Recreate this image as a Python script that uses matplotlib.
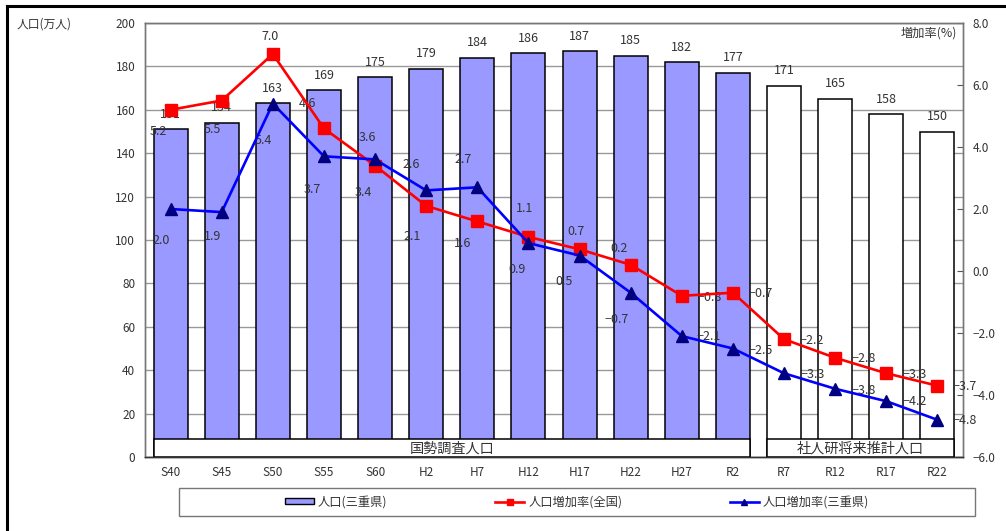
"""Mie prefecture population (bars) with national / prefectural growth rates (lines)."""

import matplotlib

matplotlib.use("Agg")
import matplotlib.pyplot as plt
import numpy as np
from matplotlib.lines import Line2D
from matplotlib.patches import Patch, Rectangle

plt.rcParams["font.family"] = ["Noto Sans CJK JP", "DejaVu Sans"]

years = ["S40", "S45", "S50", "S55", "S60", "H2", "H7", "H12", "H17", "H22",
         "H27", "R2", "R7", "R12", "R17", "R22"]
population = [151, 154, 163, 169, 175, 179, 184, 186, 187, 185, 182, 177,
              171, 165, 158, 150]
rate_japan = [5.2, 5.5, 7.0, 4.6, 3.4, 2.1, 1.6, 1.1, 0.7, 0.2, -0.8, -0.7,
              -2.2, -2.8, -3.3, -3.7]
rate_mie = [2.0, 1.9, 5.4, 3.7, 3.6, 2.6, 2.7, 0.9, 0.5, -0.7, -2.1, -2.5,
            -3.3, -3.8, -4.2, -4.8]
n_census = 12  # first 12 points are census, rest are IPSS projections

# label offsets in pixels (dx, dy)
red_offsets = [(-12, -22), (-9, -29), (-3, 18), (-16, 25), (-12, -27), (-14, -31),
               (-15, -22), (-4, 28), (-4, 18), (-12, 16), (28, -2), (28, -1),
               (28, -1), (28, -1), (28, -1), (27, -1)]
blue_offsets = [(-9, -32), (-9, -24), (-9, -37), (-12, -33), (-8, 22), (-15, 26),
                (-14, 28), (-11, -26), (-15, -26), (-14, -27), (27, 0), (28, -2),
                (29, -1), (29, -2), (28, 0), (27, -1)]

TXT = "#333333"
BAR = "#9999FF"


def fmt(v):
    return f"{v:.1f}".replace("-", "\u2212")


def main():
    W, H = 1006, 531
    fig = plt.figure(figsize=(W / 100, H / 100), dpi=100)
    ax = fig.add_axes([145 / W, 1 - 457 / H, (963 - 145) / W, (457 - 23) / H])
    ax2 = ax.twinx()

    x = np.arange(len(years))
    bw = 0.665
    colors = [BAR if i < n_census else "white" for i in x]
    ax.bar(x, population, bw, color=colors, edgecolor="black", linewidth=1.1, zorder=2)
    for xi, p in zip(x, population):
        ax.annotate(str(p), (xi, p), xytext=(0, 15), textcoords="offset pixels",
                    ha="center", va="center", fontsize=9, color=TXT)

    # source boxes along the bottom
    for i0, i1, label in [(0, n_census - 1, "国勢調査人口"),
                          (n_census, len(years) - 1, "社人研将来推計人口")]:
        ax.add_patch(Rectangle((i0 - bw / 2, 0), i1 - i0 + bw, 8.3, facecolor="white",
                               edgecolor="black", linewidth=1.1, zorder=3))
        ax.text((i0 + i1) / 2, 4.1, label, ha="center", va="center", fontsize=10.2,
                color=TXT, zorder=4)

    ax.set_xlim(-0.5, len(years) - 0.5)
    ax.set_ylim(0, 200)
    ax.set_yticks(range(0, 201, 20))
    ax.yaxis.grid(True, color="#999999", linewidth=1)
    ax.set_axisbelow(True)
    ax.set_xticks(x)
    ax.set_xticklabels(years)
    ax.tick_params(axis="x", length=0, pad=6.5, labelsize=8.5, labelcolor=TXT)
    ax.tick_params(axis="y", length=0, pad=7, labelsize=8.5, labelcolor=TXT)

    ax2.plot(x, rate_japan, color="#FF0000", linewidth=1.9, marker="s", markersize=8.5,
             markerfacecolor="#FF0000", markeredgecolor="#FF0000", zorder=5)
    ax2.plot(x, rate_mie, color="#0000FF", linewidth=1.9, marker="^", markersize=8.5,
             markerfacecolor="#000080", markeredgecolor="#000080", zorder=5)
    for xi, v, off in zip(x, rate_japan, red_offsets):
        ax2.annotate(fmt(v), (xi, v), xytext=off, textcoords="offset pixels",
                     ha="center", va="center", fontsize=9, color=TXT)
    for xi, v, off in zip(x, rate_mie, blue_offsets):
        ax2.annotate(fmt(v), (xi, v), xytext=off, textcoords="offset pixels",
                     ha="center", va="center", fontsize=9, color=TXT)
    ax2.set_ylim(-6, 8)
    ax2.set_yticks(np.arange(-6, 8.1, 2))
    ax2.set_yticklabels([fmt(t) for t in np.arange(-6, 8.1, 2)])
    ax2.tick_params(axis="y", direction="in", length=4, pad=7, labelsize=8.5,
                    labelcolor=TXT, color="#555555")

    for a in (ax, ax2):
        for s in a.spines.values():
            s.set_color("#777777")
            s.set_linewidth(1)
        a.spines["bottom"].set_color("#333333")

    fig.text(17 / W, 1 - 24 / H, "人口(万人)", ha="left", va="center", fontsize=8.5, color=TXT)
    ax2.text(957 / W, 1 - 33 / H, "増加率(%)", ha="right", va="center", fontsize=8.8,
             color=TXT, transform=fig.transFigure)

    # legend with its own wide frame
    fig.add_artist(Rectangle((179 / W, 1 - 516 / H), (975 - 179) / W, 28 / H,
                             transform=fig.transFigure, facecolor="white",
                             edgecolor="#777777", linewidth=1))
    handles = [
        Patch(facecolor=BAR, edgecolor="black", linewidth=1),
        Line2D([], [], color="#FF0000", linewidth=1.9, marker="s", markersize=4),
        Line2D([], [], color="#0000FF", linewidth=1.9, marker="^", markersize=4,
               markerfacecolor="#000080", markeredgecolor="#000080"),
    ]
    fig.legend(handles, ["人口(三重県)", "人口増加率(全国)", "人口増加率(三重県)"],
               loc="center", bbox_to_anchor=(577 / W, 1 - 502 / H), ncol=3,
               frameon=False, fontsize=8.8, handlelength=2.4, handleheight=0.45,
               handletextpad=0.3, columnspacing=8.8, labelcolor=TXT)

    # outer frame (top and left edges visible)
    fig.add_artist(Line2D([7 / W, 1], [1 - 6 / H, 1 - 6 / H], color="black",
                          linewidth=2.2, transform=fig.transFigure))
    fig.add_artist(Line2D([7 / W, 7 / W], [0, 1 - 6 / H], color="black",
                          linewidth=2.2, transform=fig.transFigure))

    fig.savefig("out.png", dpi=100)
    plt.close(fig)


if __name__ == "__main__":
    main()
